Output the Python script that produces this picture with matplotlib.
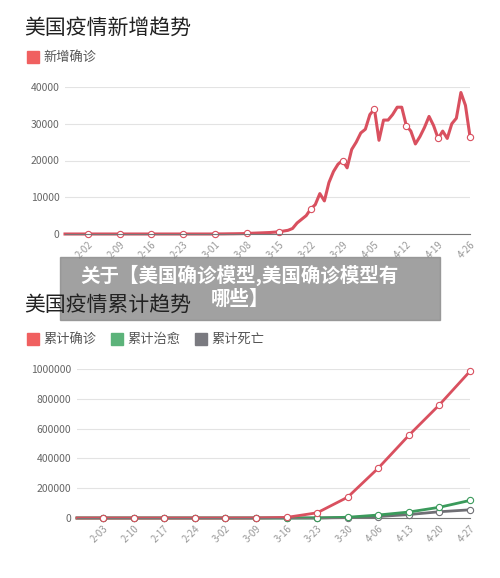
import matplotlib
matplotlib.use("Agg")
import matplotlib.pyplot as plt
import numpy as np
from matplotlib.patches import Rectangle

plt.rcParams['font.family'] = ['Noto Sans CJK SC', 'DejaVu Sans']

# ---- data: new daily cases, 1-28 .. 4-26 (day index 0..89)
new_early = [0]*33 + [10, 20, 30, 50, 60, 80, 100, 150, 200, 250, 300, 350, 400, 500, 600, 800]
new_late = [1000, 1500, 3000, 4000, 5000, 6800, 8000, 11000, 9000, 14000, 17000, 19000, 20000, 18000,
            23000, 25000, 27500, 28500, 32500, 34000, 25500, 31000, 31000, 32500, 34500, 34500, 29500,
            28000, 24500, 26500, 29000, 32000, 29500, 26000, 28000, 26000, 30000, 31500, 38500, 35000, 26500]
new_cases = new_early + new_late
top_ticks = ['2-02', '2-09', '2-16', '2-23', '3-01', '3-08', '3-15', '3-22', '3-29', '4-05', '4-12', '4-19', '4-26']
top_tick_days = [5, 12, 19, 26, 33, 40, 47, 54, 61, 68, 75, 82, 89]

# ---- cumulative, days from 1-28
cum_days = [0, 6, 13, 20, 27, 34, 41, 48, 55, 62, 69, 76, 83, 90]
confirmed = [0, 10, 12, 15, 35, 100, 500, 4000, 35000, 140000, 335000, 555000, 760000, 985000]
recovered = [0, 0, 0, 0, 5, 7, 10, 50, 200, 5000, 20000, 40000, 72000, 118000]
deaths = [0, 0, 0, 0, 0, 5, 20, 80, 500, 2500, 10000, 23000, 42000, 55000]
bot_ticks = ['2-03', '2-10', '2-17', '2-24', '3-02', '3-09', '3-16', '3-23', '3-30', '4-06', '4-13', '4-20', '4-27']

W, H = 500, 578
fig = plt.figure(figsize=(W/100, H/100), dpi=100)
fig.patch.set_facecolor('white')

RED = '#d9505f'; GREEN = '#3a9a5b'; GREY = '#6f6f74'
def px(l, t, r, b):
    return [l/W, 1-b/H, (r-l)/W, (b-t)/H]

def style(ax, yticks, labels, ticks_pos):
    ax.set_yticks(yticks)
    ax.set_yticklabels([str(v) for v in yticks], color='#666666', fontsize=7.5)
    ax.grid(axis='y', color='#e3e3e3', lw=0.8)
    ax.set_axisbelow(True)
    for s in ['top', 'right', 'left']:
        ax.spines[s].set_visible(False)
    ax.spines['bottom'].set_color('#777777')
    ax.tick_params(length=0, pad=4)
    ax.set_xticks(ticks_pos)
    ax.set_xticklabels(labels, rotation=45, color='#999999', fontsize=7, ha='right', rotation_mode='anchor')

# top chart
fig.text(24/W, 1-28/H, '美国疫情新增趋势', fontsize=15, color='#222222', va='center')
fig.patches.append(Rectangle((27/W, 1-63/H), 12/W, 12/H, transform=fig.transFigure, color='#f06060'))
fig.text(43/W, 1-57/H, '新增确诊', fontsize=9.5, color='#555555', va='center')
ax1 = fig.add_axes(px(65, 87, 470, 234))
days = np.arange(len(new_cases))
ax1.plot(days, new_cases, color=RED, lw=2.2, clip_on=False)
ax1.plot(top_tick_days, [new_cases[d] for d in top_tick_days], 'o', ms=4.5, mfc='white', mec=RED, mew=0.8, clip_on=False)
ax1.set_xlim(0, 89); ax1.set_ylim(0, 40000)
style(ax1, [0, 10000, 20000, 30000, 40000], top_ticks, top_tick_days)

# bottom chart
fig.text(24/W, 1-305/H, '美国疫情累计趋势', fontsize=15, color='#222222', va='center', zorder=12)
for x0, c, t in [(27, '#f06060', '累计确诊'), (111, '#5cb37a', '累计治愈'), (195, '#7a7a80', '累计死亡')]:
    fig.patches.append(Rectangle((x0/W, 1-345/H), 12/W, 12/H, transform=fig.transFigure, color=c))
    fig.text((x0+16)/W, 1-339/H, t, fontsize=9.5, color='#555555', va='center')
ax2 = fig.add_axes(px(77, 369, 470, 518))
for ys, c in [(deaths, GREY), (recovered, GREEN), (confirmed, RED)]:
    ax2.plot(cum_days, ys, color=c, lw=2.0, clip_on=False)
    ax2.plot(cum_days[1:], ys[1:], 'o', ms=4.5, mfc='white', mec=c, mew=0.8, clip_on=False, zorder=3)
ax2.set_xlim(0, 90); ax2.set_ylim(0, 1000000)
style(ax2, [0, 200000, 400000, 600000, 800000, 1000000], bot_ticks, cum_days[1:])

# overlay banner
fig.patches.append(Rectangle((60/W, 1-320/H), 380/W, 63/H, transform=fig.transFigure, color='#8a8a8a', alpha=0.8, zorder=10))
fig.text(240/W, 1-287/H, '关于【美国确诊模型,美国确诊模型有\n哪些】', fontsize=14, color='white',
         fontweight='bold', ha='center', va='center', zorder=11, linespacing=1.25)

fig.savefig('out.png', dpi=100)
